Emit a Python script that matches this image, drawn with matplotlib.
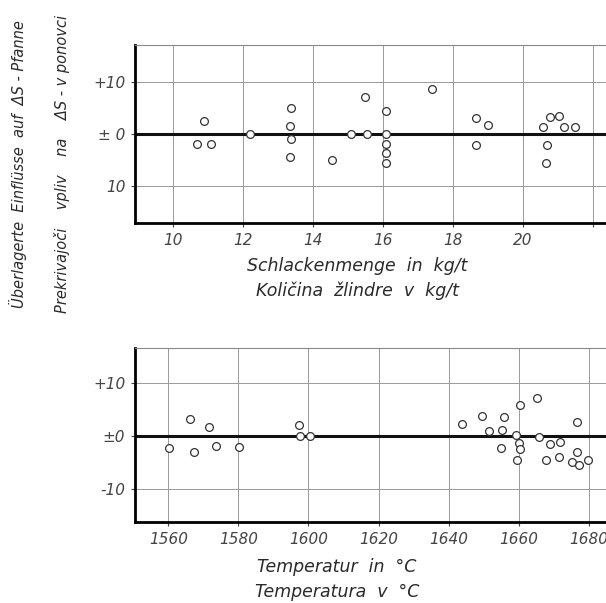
import matplotlib.pyplot as plt

# Schlackenmenge (kg/t) vs. Einfluss auf dS
slag_x = [10.9, 10.70, 11.09, 12.2, 13.37, 13.35, 13.37, 13.35, 14.56, 15.08,
          15.49, 15.55, 16.08, 16.08, 16.08, 16.08, 16.08, 17.4, 18.66, 19.02,
          18.66, 20.59, 20.78, 21.04, 21.19, 21.49, 20.69, 20.66]
slag_y = [2.6, -1.9, -1.9, 0.0, 5.06, 1.6, -0.96, -4.4, -4.9, 0.0,
          7.1, 0.0, 4.5, 0.0, -1.8, -3.6, -5.6, 8.8, 3.1, 1.7,
          -2.1, 1.46, 3.27, 3.5, 1.35, 1.4, -2.06, -5.46]

# Temperatur (°C) vs. Einfluss auf dS
temp_x = [1560.1, 1566.1, 1567.3, 1571.6, 1573.5, 1580.2, 1597.2, 1597.7, 1600.5,
          1643.9, 1649.6, 1655.7, 1660.3, 1665.2, 1651.4, 1655.3, 1659.1, 1654.8,
          1660.1, 1660.5, 1659.6, 1665.7, 1668.8, 1671.9, 1667.9, 1671.4, 1676.6,
          1676.6, 1675.2, 1677.1, 1679.9]
temp_y = [-2.4, 3.2, -3.1, 1.6, -1.9, -2.1, 2.1, 0.0, 0.0,
          2.2, 3.8, 3.5, 5.8, 7.2, 0.9, 1.1, 0.1, -2.3,
          -1.3, -2.6, -4.5, -0.3, -1.6, -1.1, -4.5, -4.1, 2.6,
          -3.1, -4.9, -5.5, -4.6]

slag_ticks = [10, 12, 14, 16, 18, 20, 22]
slag_xlabels = ['10', '12', '14', '16', '18', '20', '']   # 22 liegt ausserhalb des Bildes
temp_ticks = [1560, 1580, 1600, 1620, 1640, 1660, 1680]
temp_xlabels = ['1560', '1580', '1600', '1620', '1640', '1660', '1680']
slag_ylabels = ['+10', '± 0', '10']
temp_ylabels = ['+10', '±0', '-10']

plt.rcParams['font.family'] = ['DejaVu Sans']
txt = dict(style='italic', color='#2a2a2a')

fig = plt.figure(figsize=(6.06, 6.03), dpi=100)
ax1 = fig.add_axes([0.2228, 0.6302, 0.787, 0.2952])
ax2 = fig.add_axes([0.2228, 0.1338, 0.787, 0.2891])


def style_panel(ax, x, y, ticks, xlabels, ylabels, xlim, ylim):
    ax.set_xlim(*xlim)
    ax.set_ylim(*ylim)
    ax.set_xticks(ticks)
    ax.set_xticklabels(xlabels, **txt)
    ax.set_yticks([10, 0, -10])
    ax.set_yticklabels(ylabels, **txt)
    ax.tick_params(labelsize=11, length=3, width=0.8, colors='#444', pad=4)
    ax.grid(True, color='#9a9a9a', lw=0.7)
    ax.axhline(0, color='#111', lw=2.2, zorder=2)
    ax.spines['left'].set_linewidth(2)
    ax.spines['bottom'].set_linewidth(2)
    ax.spines['top'].set_color('#888')
    ax.spines['top'].set_linewidth(0.8)
    ax.spines['right'].set_visible(False)
    ax.plot(x, y, 'o', ms=5.6, mfc='white', mec='#333', mew=0.9, zorder=3,
            clip_on=False)


style_panel(ax1, slag_x, slag_y, slag_ticks, slag_xlabels, slag_ylabels,
            (8.92, 22.55), (-17.1, 17.2))
style_panel(ax2, temp_x, temp_y, temp_ticks, temp_xlabels, temp_ylabels,
            (1550.5, 1686.6), (-16.35, 16.55))

fig.text(357 / 606, 1 - 266 / 603, 'Schlackenmenge  in  kg/t', ha='center', va='center', fontsize=12.5, **txt)
fig.text(357 / 606, 1 - 291 / 603, 'Količina  žlindre  v  kg/t', ha='center', va='center', fontsize=12.5, **txt)
fig.text(337 / 606, 1 - 567 / 603, 'Temperatur  in  °C', ha='center', va='center', fontsize=12.5, **txt)
fig.text(337 / 606, 1 - 592 / 603, 'Temperatura  v  °C', ha='center', va='center', fontsize=12.5, **txt)

fig.text(18 / 606, 1 - 164 / 603, 'Überlagerte  Einflüsse  auf  ΔS - Pfanne',
         rotation=90, ha='center', va='center', fontsize=10.5, **txt)
fig.text(62 / 606, 1 - 164 / 603, 'Prekrivajoči    vpliv    na    ΔS - v ponovci',
         rotation=90, ha='center', va='center', fontsize=10.5, **txt)

fig.savefig('out.png', dpi=100)
